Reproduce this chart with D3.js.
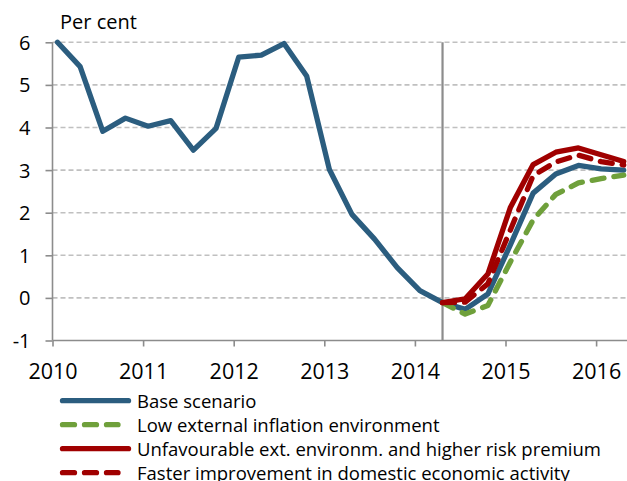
<!DOCTYPE html>
<html>
<head>
<meta charset="utf-8">
<script src="https://cdn.jsdelivr.net/npm/d3@7"></script>
<style>
    body { margin: 0; background: #fff; }
    svg { display: block; font-family: "Open Sans", sans-serif; }
</style>
</head>
<body>
<svg id="canvas" width="627" height="481"></svg>
<script>
// quarterly data, first point 2010 Q1
var startYear = 2010;
var baseScenario = [6.0, 5.43, 3.91, 4.22, 4.03, 4.16, 3.47, 3.98, 5.65, 5.70, 5.97, 5.21,
    3.02, 1.96, 1.38, 0.71, 0.17, -0.11, -0.27, 0.09, 1.25, 2.46, 2.91, 3.11, 3.03, 3.0];
// scenarios start at forecast quarter (index 17)
var forecastStart = 17;
var lowExternal = [-0.11, -0.38, -0.18, 0.85, 1.83, 2.43, 2.70, 2.80, 2.88];
var unfavourable = [-0.11, -0.02, 0.56, 2.13, 3.13, 3.42, 3.52, 3.36, 3.20];
var fasterImprovement = [-0.11, -0.10, 0.33, 1.60, 2.87, 3.19, 3.35, 3.20, 3.12];

var yearTicks = [2010, 2011, 2012, 2013, 2014, 2015, 2016];
var valueTicks = [-1, 0, 1, 2, 3, 4, 5, 6];
var legendLabels = ["Base scenario", "Low external inflation environment",
    "Unfavourable ext. environm. and higher risk premium",
    "Faster improvement in domestic economic activity"];

var svg = d3.select("#canvas");
var plotLeft = 52.5, plotRight = 627, plotTop = 42.3, plotBottom = 340.5;
var pointShift = 0.055; // points sit a bit right of the year ticks

var x = d3.scaleLinear().domain([2010, 2010 + (plotRight - plotLeft) / 90.6]).range([plotLeft, plotRight]);
var y = d3.scaleLinear().domain([-1, 6]).range([plotBottom, plotTop]);

function quarterDate(i) {
    return startYear + i / 4 + pointShift;
}

// gridlines
svg.append("g").selectAll("line")
    .data(valueTicks.filter(function (d) { return d > -1; }))
    .enter().append("line")
    .attr("x1", plotLeft).attr("x2", plotRight)
    .attr("y1", function (d) { return y(d); })
    .attr("y2", function (d) { return y(d); })
    .attr("stroke", "#c0c0c0")
    .attr("stroke-width", 1.6)
    .attr("stroke-dasharray", "5,3");

// y axis (plain hyphen for negatives)
var yAxis = svg.append("g").attr("transform", "translate(" + plotLeft + ",0)")
    .call(d3.axisLeft(y).tickValues(valueTicks).tickFormat(function (d) { return String(d); })
        .tickSize(7).tickPadding(15));
yAxis.select(".domain").attr("stroke", "#8c8c8c").attr("stroke-width", 1.6)
    .attr("d", "M0," + plotTop + "V" + plotBottom);
yAxis.selectAll(".tick line").attr("stroke", "#8c8c8c").attr("stroke-width", 1.6);
yAxis.selectAll(".tick text").attr("font-size", 20).attr("fill", "#000")
    .attr("font-family", "Open Sans").attr("dy", "0.35em");

// x axis
var xAxis = svg.append("g").attr("transform", "translate(0," + plotBottom + ")")
    .call(d3.axisBottom(x).tickValues(yearTicks).tickFormat(d3.format("d")).tickSize(6).tickPadding(17.5));
xAxis.select(".domain").attr("stroke", "#8c8c8c").attr("stroke-width", 1.6)
    .attr("d", "M" + plotLeft + ",0H" + plotRight);
xAxis.selectAll(".tick line").attr("stroke", "#8c8c8c").attr("stroke-width", 1.6);
xAxis.selectAll(".tick text").attr("font-size", 21.5).attr("fill", "#000")
    .attr("font-family", "Open Sans");

// forecast start marker
svg.append("line")
    .attr("x1", x(quarterDate(forecastStart))).attr("x2", x(quarterDate(forecastStart)))
    .attr("y1", plotTop).attr("y2", plotBottom)
    .attr("stroke", "#8c8c8c").attr("stroke-width", 2.2);

svg.append("text").attr("x", 60).attr("y", 29)
    .attr("font-size", 20).attr("fill", "#000").text("Per cent");

var series = [
    {values: baseScenario, offset: 0, color: "#2b5d7f", dash: null},
    {values: lowExternal, offset: forecastStart, color: "#6fa03b", dash: "12,10"},
    {values: unfavourable, offset: forecastStart, color: "#a00000", dash: null},
    {values: fasterImprovement, offset: forecastStart, color: "#a00000", dash: "12,10"}
];

var line = d3.line()
    .x(function (d) { return x(d.t); })
    .y(function (d) { return y(d.v); });

series.forEach(function (s) {
    var pts = s.values.map(function (v, i) {
        return {t: quarterDate(i + s.offset), v: v};
    });
    svg.append("path")
        .datum(pts)
        .attr("d", line)
        .attr("fill", "none")
        .attr("stroke", s.color)
        .attr("stroke-width", 5.3)
        .attr("stroke-linejoin", "round")
        .attr("stroke-linecap", "round")
        .attr("stroke-dasharray", s.dash);
});

// legend
var legend = svg.append("g").selectAll("g")
    .data(series)
    .enter().append("g")
    .attr("transform", function (d, i) { return "translate(0," + (400.7 + 24 * i) + ")"; });
legend.append("line")
    .attr("x1", 62.5)
    .attr("x2", function (d) { return d.dash ? 118 : 128.5; })
    .attr("stroke", function (d) { return d.color; })
    .attr("stroke-width", 5.3)
    .attr("stroke-linecap", "round")
    .attr("stroke-dasharray", function (d) { return d.dash; });
legend.append("text")
    .attr("x", 137).attr("y", 7)
    .attr("font-size", 18.5).attr("fill", "#000")
    .text(function (d, i) { return legendLabels[i]; });
</script>
</body>
</html>
